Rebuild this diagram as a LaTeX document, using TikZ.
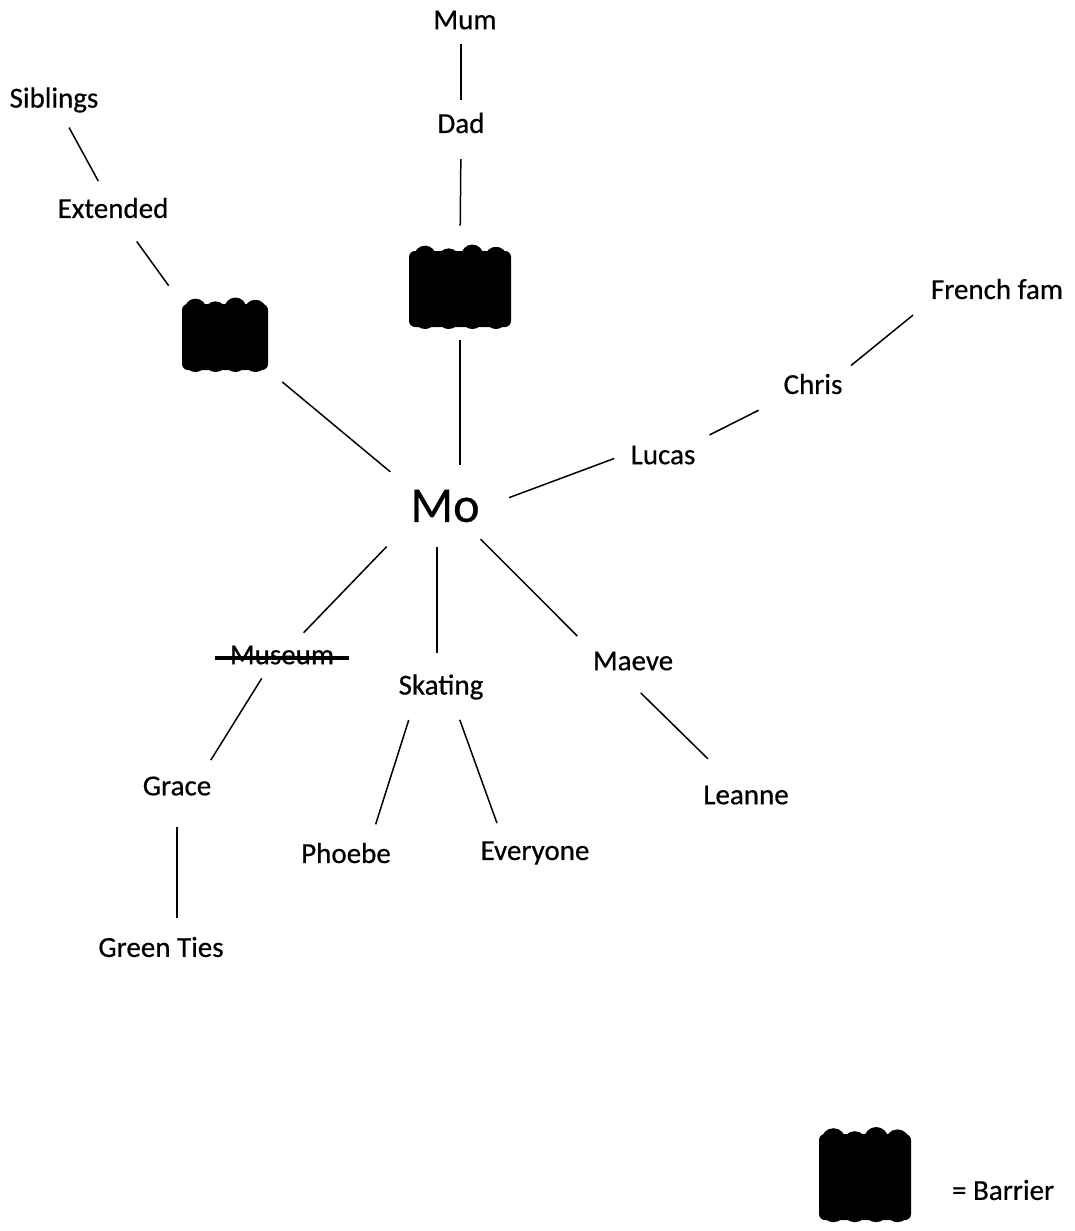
\documentclass[tikz,border=0pt]{standalone}
\usepackage{fontspec}
\setmainfont{Carlito}[FakeBold=0.5]
\usetikzlibrary{calc, positioning}

\tikzset{
  lbl/.style={font=\fontsize{14.5}{17}\selectfont},
  hub/.style={font=\fontsize{25}{30}\selectfont},
  barrier/.style={fill=black, rounded corners=3pt, inner sep=0pt},
  link/.style={shorten >=9pt, shorten <=9pt, line width=0.75pt}
}

% bumpy edges of a barrier blob
\newcommand{\scribble}[2]{%
  \foreach \f/\d in {0.16/0.55,0.39/0.8,0.62/0.45,0.85/0.65}{
    \fill ($(#1.north west)!\f!(#1.north east)+(0pt,-\d*#2)$) circle (#2);
    \fill ($(#1.south west)!\f!(#1.south east)+(0pt,0.85*#2)$) circle (#2);
  }%
}

\begin{document}
\begin{tikzpicture}[x=0.5pt, y=-0.5pt]
        \useasboundingbox (0,0) rectangle (1075,1231);

        \node[lbl] (mum) at (465,20) {Mum};
        \node[lbl] (dad) at (461,123) {Dad};
        \node[barrier, minimum width=51pt, minimum height=38pt] (bartop) at (460,289) {};
        \node[lbl] (sib) at (54,100) {Siblings};
        \node[lbl] (ext) at (113,208) {Extended};
        \node[barrier, minimum width=43pt, minimum height=33pt] (barleft) at (225,337) {};
        \node[lbl] (french) at (997,289) {French fam};
        \node[lbl] (chris) at (813,384) {Chris};
        \node[lbl] (lucas) at (663,455) {Lucas};
        \node[hub] (mo) at (445,506) {Mo};
        \node[lbl] (museum) at (282,655) {Museum};
        \node[lbl] (skating) at (441,687) {Skating};
        \node[lbl] (maeve) at (633,661) {Maeve};
        \node[lbl] (grace) at (177,786) {Grace};
        \node[lbl] (phoebe) at (346,853) {Phoebe};
        \node[lbl] (everyone) at (535,853) {Everyone};
        \node[lbl] (leanne) at (746,795) {Leanne};
        \node[lbl] (green) at (161,947) {Green Ties};
        \node[barrier, minimum width=46pt, minimum height=43pt] (barkey) at (865,1177) {};
        \node[lbl, anchor=west] (key) at (945,1190) {= Barrier};

        \scribble{bartop}{5.5pt}
        \scribble{barleft}{5.5pt}
        \scribble{barkey}{6pt}
        \draw[line width=1.8pt] ([xshift=-4pt, yshift=-1.5pt]museum.west) -- ([xshift=4pt, yshift=-1.5pt]museum.east);

        \path (dad.north |- mum.south) edge[link, shorten <=4pt, shorten >=3pt] (dad.north)
              (dad.south) edge[link, shorten <=9.5pt, shorten >=12.5pt] (bartop.north)
              (bartop.south) edge[link, shorten <=6.5pt, shorten >=9pt] (bartop.south |- mo.north)
              (sib) edge[link, shorten <=4.5pt, shorten >=5.5pt] (ext)
              ([xshift=6pt]ext.south) edge[link, shorten <=10pt, shorten >=11pt] (barleft.north west)
              (barleft.south east) edge[link, shorten <=9pt, shorten >=8.5pt] (mo.north west)
              (french.south west) edge[link, shorten <=7pt, shorten >=1pt] (chris.north east)
              (chris.south west) edge[link, shorten <=10pt, shorten >=4pt] (lucas.north east)
              (lucas.west) edge[link, shorten <=5pt, shorten >=12pt] (mo.east)
              (mo.south west) edge[link, shorten <=12pt, shorten >=4pt] ([xshift=8pt]museum.north)
              ([xshift=-4pt]mo.south) edge[link, shorten <=9pt, shorten >=7pt] ([xshift=-4pt]mo.south |- skating.north)
              ([xshift=-8pt]mo.south east) edge[link, shorten <=7pt, shorten >=6pt] (maeve.north west)
              ([xshift=-8pt]museum.south) edge[link, shorten <=4pt, shorten >=5.5pt] ([xshift=14pt]grace.north)
              ([xshift=-14pt]skating.south) edge[link, shorten <=7pt, shorten >=6pt] ([xshift=13pt]phoebe.north)
              ([xshift=7pt]skating.south) edge[link, shorten <=7pt, shorten >=6pt] ([xshift=-17pt]everyone.north)
              ([xshift=-4pt]maeve.south) edge[link, shorten <=11pt, shorten >=14pt] ([xshift=-9pt]leanne.north)
              (grace.south) edge[link, shorten <=12pt, shorten >=6pt] (grace.south |- green.north);
    \end{tikzpicture}
\end{document}
